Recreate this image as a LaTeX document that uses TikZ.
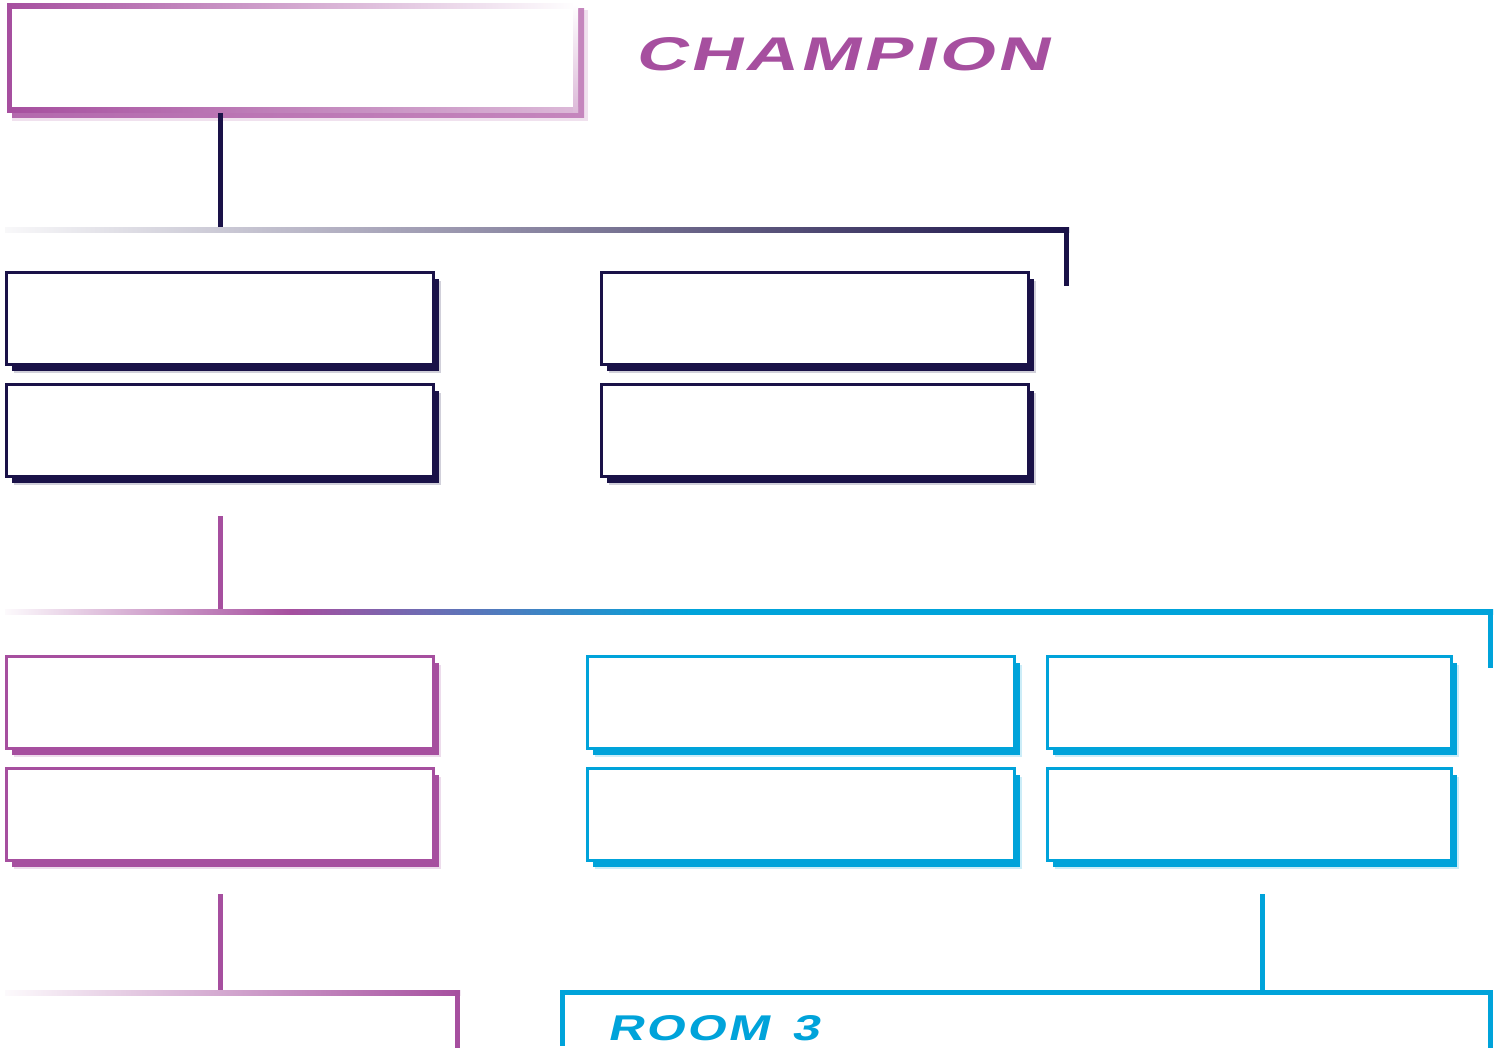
\documentclass[tikz,border=0pt]{standalone}
\usepackage{fontspec}
\usepackage{graphicx}
\usetikzlibrary{shadows}
\newfontfamily\champ[FakeStretch=1.3,LetterSpace=6,
  UprightFeatures={FakeSlant=0.22},BoldFeatures={FakeSlant=0.22}]{Liberation Sans}
\definecolor{navy}{HTML}{1A1248}
\definecolor{cpurple}{HTML}{A64F9F}
\definecolor{cblue}{HTML}{00A3DA}
\definecolor{cpink}{HTML}{C586BD}
\definecolor{lpink}{HTML}{DCB9D8}
\pgfdeclarehorizontalshading{bartwo}{100bp}{color(0bp)=(cpurple!3); color(25bp)=(cpurple!3);
  color(34.6bp)=(cpurple); color(48bp)=(cblue); color(100bp)=(cblue)}
\tikzset{
  basebox/.style={rectangle, fill=white, line width=1.5pt, inner sep=0pt,
    minimum width=213.5pt, minimum height=46pt},
  navybox/.style={basebox, draw=navy,
    drop shadow={shadow xshift=3.8pt, shadow yshift=-4.2pt, fill=navy, opacity=0.2},
    drop shadow={shadow xshift=2.9pt, shadow yshift=-3.3pt, fill=navy, opacity=1}},
  purplebox/.style={basebox, draw=cpurple,
    drop shadow={shadow xshift=3.8pt, shadow yshift=-4.2pt, fill=cpurple, opacity=0.2},
    drop shadow={shadow xshift=2.9pt, shadow yshift=-3.3pt, fill=cpurple, opacity=1}},
  bluebox/.style={basebox, draw=cblue,
    drop shadow={shadow xshift=3.8pt, shadow yshift=-4.2pt, fill=cblue, opacity=0.2},
    drop shadow={shadow xshift=2.9pt, shadow yshift=-3.3pt, fill=cblue, opacity=1}},
  stem/.style={line width=2.5pt},
  title/.style={inner sep=0pt, anchor=north west}
}
\begin{document}
\begin{tikzpicture}[x=0.5pt,y=-0.5pt]
\useasboundingbox (0,0) rectangle (1499,1048);
% ---------- top box ----------
\fill[cpink,opacity=0.25] (12,10) rectangle (588,121);
\shade[left color=cpurple!85, right color=cpink] (12,9) rectangle (584,118);
\node[inner sep=0pt, minimum width=285.5pt, minimum height=54.5pt, anchor=north west] (top) at (7,4) {};
\fill[white] (7,4) rectangle (578,113);
\shade[left color=cpurple, right color=white] (7,4) rectangle (578,9);
\shade[left color=cpurple, right color=lpink] (7,108) rectangle (578,113);
\shade[top color=white, bottom color=lpink] (573,4) rectangle (578,113);
\fill[cpurple] (7,4) rectangle (12,113);
% ---------- titles ----------
\node[title, text=cpurple] (champ) at (634,37)
  {\resizebox{207pt}{16.5pt}{\champ\bfseries CHAMPION}};
\node[title, text=cblue] (room) at (607,1015)
  {\resizebox{106pt}{12.5pt}{\champ\bfseries ROOM\hspace{0.6em}3}};
% ---------- navy level ----------
\coordinate (t1) at (220,113);
\coordinate (j1) at (220,230);
\draw[navy, stem] (t1) -- (j1);
\shade[left color=navy!3, right color=navy] (5,228) rectangle (1069,233);
\fill[navy] (1064,228) rectangle (1069,286);
\node[navybox] (n1) at (220,318.5) {};
\node[navybox] (n2) at (815,318.5) {};
\node[navybox] (n3) at (220,430.5) {};
\node[navybox] (n4) at (815,430.5) {};
% ---------- purple / blue level ----------
\coordinate (s2a) at (220,516);
\coordinate (s2b) at (220,612);
\draw[cpurple, stem] (s2a) -- (s2b);
\shade[shading=bartwo] (5,609.5) rectangle (1493,614.5);
\fill[cblue] (1488,609.5) rectangle (1493,668);
\node[purplebox] (p1) at (220,702.5) {};
\node[purplebox] (p2) at (220,814.5) {};
\node[bluebox] (b1) at (800.5,702.5) {};
\node[bluebox] (b2) at (800.5,814.5) {};
\node[bluebox, minimum width=202pt] (b3) at (1249.5,702.5) {};
\node[bluebox, minimum width=202pt] (b4) at (1249.5,814.5) {};
% ---------- bottom level ----------
\coordinate (s3a) at (220,894);
\coordinate (s3b) at (220,992);
\draw[cpurple, stem] (s3a) -- (s3b);
\shade[left color=cpurple!3, right color=cpurple] (5,990) rectangle (460,995);
\fill[cpurple] (455,990) rectangle (460,1048);
\coordinate (s4a) at (1262,894);
\coordinate (s4b) at (1262,992);
\draw[cblue, stem] (s4a) -- (s4b);
\fill[cblue] (560,990) rectangle (1493,995);
\fill[cblue] (560,990) rectangle (565,1046);
\fill[cblue] (1488,990) rectangle (1493,1048);
\end{tikzpicture}
\end{document}
